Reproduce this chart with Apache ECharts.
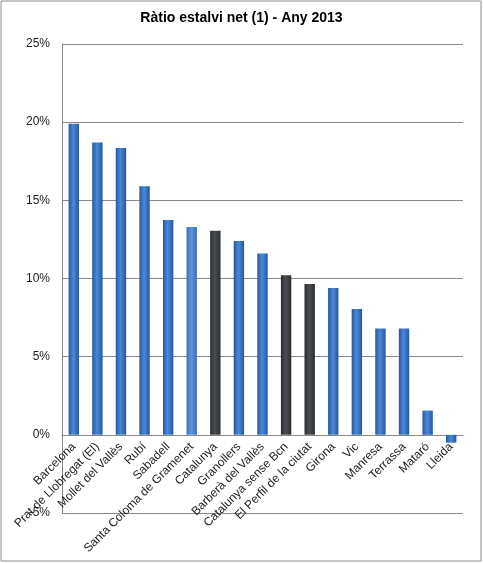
<!DOCTYPE html>
<html><head><meta charset="utf-8">
<script src="https://cdn.jsdelivr.net/npm/echarts@6/dist/echarts.min.js"></script>
<style>html,body{margin:0;padding:0;background:#fff}#c{width:483px;height:563px}</style>
</head><body><div id="c"></div>
<script>
const categories = ["Barcelona","Prat de Llobregat (El)","Mollet del Vallès","Rubí","Sabadell","Santa Coloma de Gramenet","Catalunya","Granollers","Barberà del Vallès","Catalunya sense Bcn","El Perfil de la ciutat","Girona","Vic","Manresa","Terrassa","Mataró","Lleida"];
const values = [19.9,18.7,18.35,15.9,13.75,13.3,13.05,12.4,11.6,10.2,9.65,9.4,8.05,6.8,6.8,1.55,-0.5];
const kinds = ["b","b","b","b","b","l","g","b","b","g","g","b","b","b","b","b","b"];
const yTicks = {min:-5, max:25, interval:5};

function grad(a,b){
  return new echarts.graphic.LinearGradient(0,0,1,0,[
    {offset:0,color:a},{offset:0.45,color:b},{offset:1,color:a}]);
}
const palette = {
  b: grad('#2657a0','#4b88d8'),
  l: grad('#3d6fb8','#5f95dc'),
  g: grad('#2a2c30','#4a4d52')
};
const gridTop = 44, gridBottom = 50, H = 563;
const plotH = H - gridTop - gridBottom;
const zeroOffset = -plotH * (0 - yTicks.min) / (yTicks.max - yTicks.min);
const chart = echarts.init(document.getElementById('c'));
chart.setOption({
  animation:false,
  title:{text:'Ràtio estalvi net (1) - Any 2013',left:'center',top:6,
    textStyle:{fontFamily:'Liberation Sans',fontSize:14,fontWeight:'bold',color:'#000'}},
  graphic:[{type:'rect',shape:{x:1,y:1,width:480,height:560},
    style:{fill:'none',stroke:'#8c8c8c',lineWidth:1},silent:true}],
  grid:{left:62,right:20,top:gridTop,bottom:gridBottom,containLabel:false,outerBoundsMode:'none'},
  xAxis:{type:'category',data:categories,offset:zeroOffset,
    axisLine:{onZero:false,lineStyle:{color:'#888'}},
    axisTick:{show:false},
    axisLabel:{interval:0,rotate:45,fontFamily:'Liberation Sans',fontSize:12,color:'#222',margin:10},
    splitLine:{show:false}},
  yAxis:{type:'value',min:yTicks.min,max:yTicks.max,interval:yTicks.interval,
    axisLine:{show:true,lineStyle:{color:'#888'}},
    axisTick:{show:false},
    axisLabel:{formatter:'{value}%',fontFamily:'Liberation Sans',fontSize:12,color:'#222',margin:12},
    splitLine:{lineStyle:{color:'#888'}}},
  series:[{type:'bar',barWidth:'44%',
    data:values.map((v,i)=>({value:v,itemStyle:{color:palette[kinds[i]]}}))}]
});
</script></body></html>
